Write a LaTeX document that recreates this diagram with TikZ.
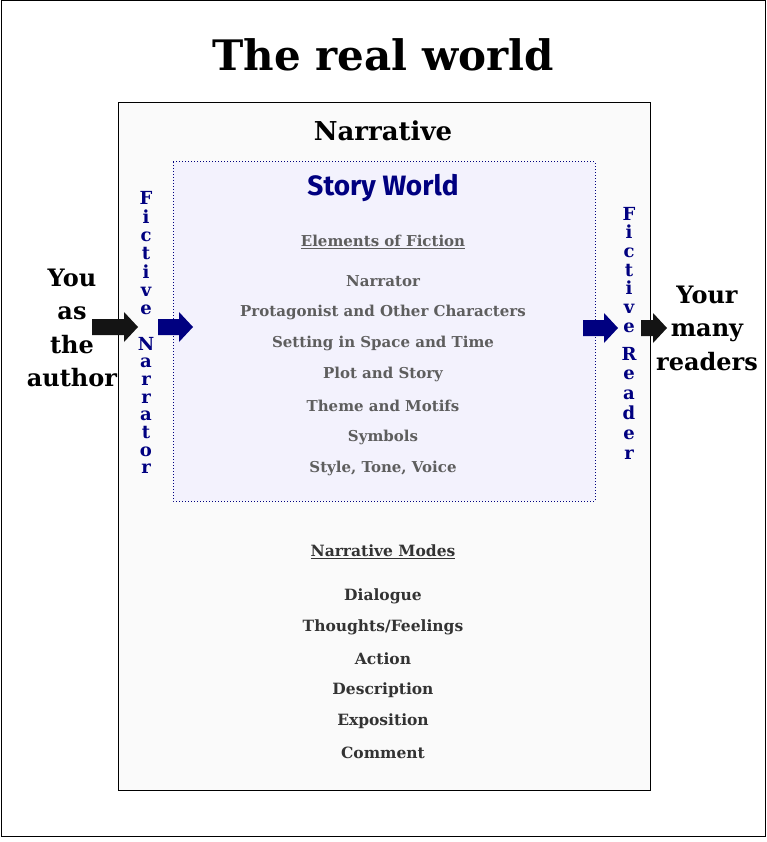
\documentclass[tikz,border=0pt]{standalone}
\usepackage{fontspec}
\setmainfont{DejaVu Serif}
\newfontfamily\swfont{Fira Sans}
\definecolor{navyc}{HTML}{000080}
\definecolor{graytxt}{HTML}{5E5E5E}
\definecolor{darktxt}{HTML}{333333}
\definecolor{innerbg}{HTML}{FAFAFA}
\definecolor{storybg}{HTML}{F3F2FD}
\newcommand{\myarrow}[4]{\fill[#4] (#1,#3-8) -- (#2-14,#3-8) -- (#2-14,#3-15) -- (#2,#3) -- (#2-14,#3+15) -- (#2-14,#3+8) -- (#1,#3+8) -- cycle;}
\begin{document}
\begin{tikzpicture}[x=1pt,y=-1pt,
  item/.style={font=\fontsize{15}{15}\selectfont\bfseries, text=graytxt, inner sep=0pt},
  mode/.style={font=\fontsize{15.5}{15.5}\selectfont\bfseries, text=darktxt, inner sep=0pt},
  side/.style={font=\fontsize{24}{33.5}\selectfont\bfseries, align=center, inner sep=0pt},
  vert/.style={font=\fontsize{18}{18}\selectfont\bfseries, text=navyc, inner sep=0pt}]
\useasboundingbox (0,0) rectangle (767,842);
\draw[line width=1pt] (1,1) rectangle (765,836);
\node[font=\fontsize{42}{42}\selectfont\bfseries] (title) at (383,55) {The real world};
\draw[fill=innerbg, line width=0.6pt] (118,102) rectangle (650,790);
\node[font=\fontsize{26}{26}\selectfont\bfseries] (narr) at (383,131) {Narrative};
\draw[fill=storybg, draw=navyc, dotted, line width=1pt] (173,162) rectangle (595,501);
\node[font=\fontsize{28}{28}\selectfont\swfont\bfseries, text=navyc] (sw) at (383,188) {Story World};
\node[item] (ef) at (383,242) {\underline{Elements of Fiction}};
\foreach \t [count=\i] in {Narrator,Protagonist and Other Characters,Setting in Space and Time,Plot and Story,Theme and Motifs,Symbols,{Style, Tone, Voice}}
  \node[item] (e\i) at (383,{281+31.3*(\i-1)}) {\t};
\node[mode] (nm) at (383,552) {\underline{Narrative Modes}};
\foreach \t [count=\i] in {Dialogue,Thoughts/Feelings,Action,Description,Exposition,Comment}
  \node[mode] (m\i) at (383,{596+31.4*(\i-1)}) {\t};
\node[side] (you) at (72,328) {You\\as\\the\\author};
\node[side] (rd) at (707,328) {Your\\many\\readers};
\foreach \l [count=\i] in {F,i,c,t,i,v,e}
  \node[vert, anchor=base] (fa\i) at (146,{205+18.3*(\i-1)}) {\l};
\foreach \l [count=\i] in {N,a,r,r,a,t,o,r}
  \node[vert, anchor=base] (fb\i) at (146,{350+17.7*(\i-1)}) {\l};
\foreach \l [count=\i] in {F,i,c,t,i,v,e}
  \node[vert, anchor=base] (ra\i) at (629,{220+18.7*(\i-1)}) {\l};
\foreach \l [count=\i] in {R,e,a,d,e,r}
  \node[vert, anchor=base] (rb\i) at (629,{360+19.8*(\i-1)}) {\l};
\myarrow{92}{138}{327}{black!92}
\myarrow{158}{193}{327}{navyc}
\myarrow{583}{618}{328}{navyc}
\myarrow{641}{667}{328}{black!92}
\end{tikzpicture}
\end{document}
